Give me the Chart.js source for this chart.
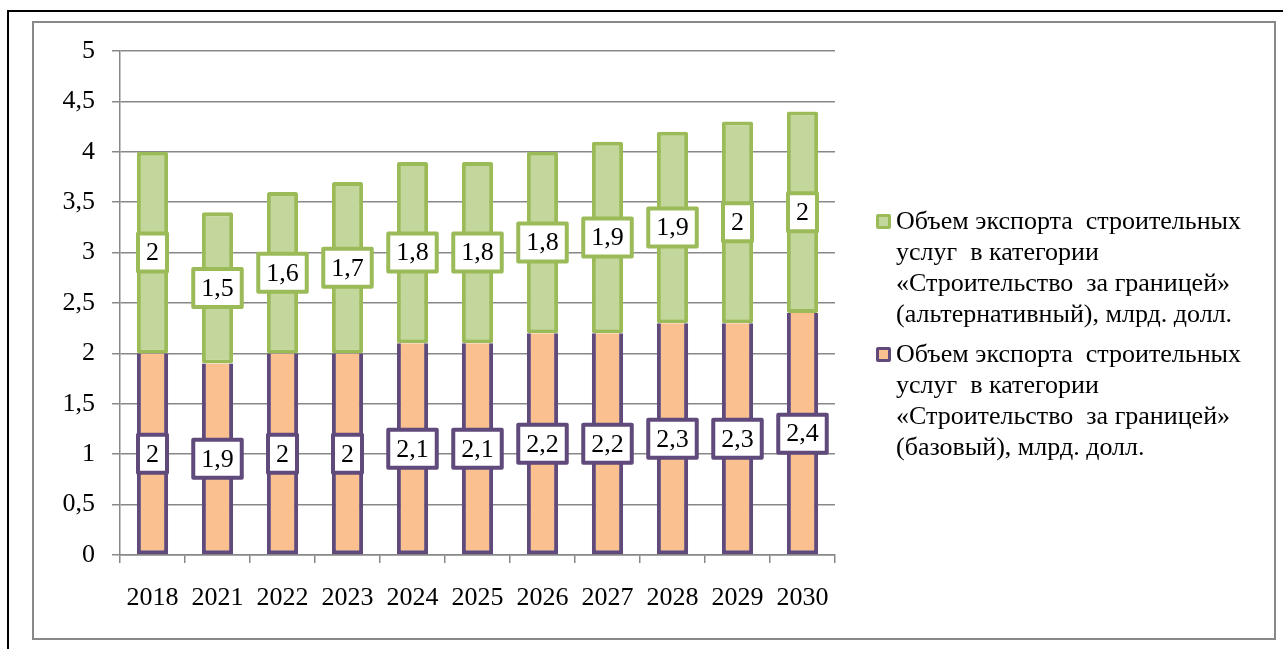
<!DOCTYPE html>
<html>
<head>
<meta charset="utf-8">
<script src="https://cdn.jsdelivr.net/npm/chart.js@4.4.0/dist/chart.umd.min.js"></script>
<style>
    body { margin: 0; background: #fff; width: 1283px; height: 649px; overflow: hidden; position: relative; font-family: "Liberation Serif", "Times New Roman", serif; }
    #outerTop { position: absolute; left: 7px; top: 10px; width: 1276px; height: 2px; background: #000; }
    #outerLeft { position: absolute; left: 7px; top: 10px; width: 2px; height: 639px; background: #000; }
    #frame { position: absolute; left: 32px; top: 21px; width: 1240px; height: 615px; border: 2px solid #888; }
    canvas { position: absolute; left: 0; top: 0; }
    #legenda { position: absolute; left: 876px; top: 205px; font-size: 26px; line-height: 31px; color: #000; }
    .item { position: relative; padding-left: 20px; margin-bottom: 9px; white-space: pre; }
    .marca { position: absolute; left: 0; top: 9px; width: 9px; height: 9px; border: 3px solid; border-radius: 2px; }
</style>
</head>
<body>
<div id="outerTop"></div>
<div id="outerLeft"></div>
<div id="frame"></div>
<canvas id="grafico" width="1283" height="649"></canvas>
<div id="legenda"></div>

<script>
const anos = ['2018', '2021', '2022', '2023', '2024', '2025', '2026', '2027', '2028', '2029', '2030']
const base = [2, 1.9, 2, 2, 2.1, 2.1, 2.2, 2.2, 2.3, 2.3, 2.4]
const alternativo = [2, 1.5, 1.6, 1.7, 1.8, 1.8, 1.8, 1.9, 1.9, 2, 2]
const nomeAlt = 'Объем экспорта  строительных\nуслуг  в категории\n«Строительство  за границей»\n(альтернативный), млрд. долл.'
const nomeBase = 'Объем экспорта  строительных\nуслуг  в категории\n«Строительство  за границей»\n(базовый), млрд. долл.'

const fonte = '"Liberation Serif", "Times New Roman", serif'

function virgula(v) {
    return String(v).replace('.', ',')
}

// caixinhas com os valores no meio de cada pedaço da barra
const rotulos = {
    id: 'rotulos',
    afterDatasetsDraw(chart) {
        const ctx = chart.ctx
        ctx.save()
        ctx.font = '26px ' + fonte
        ctx.textAlign = 'center'
        ctx.textBaseline = 'middle'
        chart.data.datasets.forEach(function (ds, i) {
            const meta = chart.getDatasetMeta(i)
            meta.data.forEach(function (bar, j) {
                const texto = virgula(ds.data[j])
                const meio = (bar.y + bar.base) / 2
                const w = ctx.measureText(texto).width + 16
                const h = 38
                ctx.fillStyle = '#fff'
                ctx.strokeStyle = ds.borderColor
                ctx.lineWidth = 4
                ctx.lineJoin = 'round'
                ctx.fillRect(bar.x - w / 2, meio - h / 2, w, h)
                ctx.strokeRect(bar.x - w / 2, meio - h / 2, w, h)
                ctx.fillStyle = '#000'
                ctx.fillText(texto, bar.x, meio + 1)
            })
        })
        ctx.restore()
    }
}

const ctx = document.getElementById('grafico')

new Chart(ctx, {
    type: 'bar',
    data: {
        labels: anos,
        datasets: [{
            label: nomeBase,
            data: base,
            backgroundColor: '#FAC090',
            borderColor: '#604A7B',
            borderWidth: 4,
            borderSkipped: 'top',
            barPercentage: 0.48,
            categoryPercentage: 1
        }, {
            label: nomeAlt,
            data: alternativo,
            backgroundColor: '#C3D69B',
            borderColor: '#9BBB59',
            borderWidth: 4,
            borderSkipped: false,
            borderRadius: 2,
            barPercentage: 0.48,
            categoryPercentage: 1
        }]
    },
    options: {
        responsive: false,
        animation: false,
        layout: {
            padding: { left: 0, top: 51, right: 448, bottom: 0 }
        },
        plugins: {
            legend: { display: false },
            tooltip: { enabled: false }
        },
        scales: {
            x: {
                stacked: true,
                afterFit: function (scale) { scale.height = 94 },
                border: { color: '#888', width: 1.5 },
                grid: {
                    drawOnChartArea: false,
                    color: '#888',
                    lineWidth: 1.5,
                    tickLength: 8
                },
                ticks: {
                    color: '#000',
                    padding: 20,
                    font: { family: fonte, size: 26 }
                }
            },
            y: {
                stacked: true,
                min: 0,
                max: 5,
                afterFit: function (scale) { scale.width = 120 },
                border: { color: '#888', width: 1.5 },
                grid: {
                    color: '#888',
                    lineWidth: 1.5,
                    tickLength: 8
                },
                ticks: {
                    stepSize: 0.5,
                    color: '#000',
                    padding: 17,
                    font: { family: fonte, size: 26 },
                    callback: function (v) { return virgula(v) }
                }
            }
        }
    },
    plugins: [rotulos]
});

// legenda em html, texto em varias linhas
const itens = [
    { nome: nomeAlt, fundo: '#C3D69B', borda: '#9BBB59' },
    { nome: nomeBase, fundo: '#FAC090', borda: '#604A7B' }
]
const legenda = document.getElementById('legenda')
for (var i = 0; i < itens.length; i++) {
    var div = document.createElement('div')
    div.className = 'item'
    var marca = document.createElement('span')
    marca.className = 'marca'
    marca.style.background = itens[i].fundo
    marca.style.borderColor = itens[i].borda
    div.appendChild(marca)
    div.appendChild(document.createTextNode(itens[i].nome))
    legenda.appendChild(div)
}
</script>
</body>
</html>
